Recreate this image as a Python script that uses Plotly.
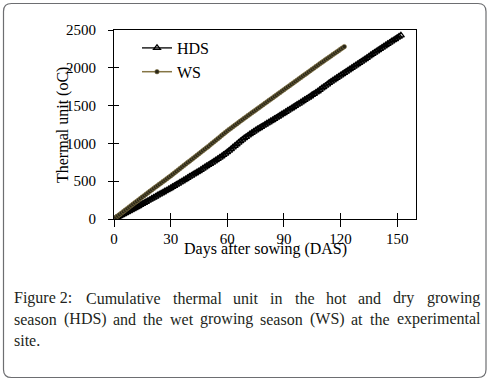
import plotly.graph_objects as go

# ---- data ----
hds_days = list(range(0, 153))
hds_tu = [0, 11, 24, 38, 51, 64, 78, 91, 104, 117, 130,
          144, 157, 171, 186, 200, 213, 228, 242, 255, 270,
          284, 297, 312, 326, 339, 354, 368, 381, 396, 410,
          425, 440, 455, 469, 484, 499, 514, 529, 545, 560,
          575, 590, 605, 620, 635, 651, 667, 683, 699, 715,
          731, 747, 763, 779, 796, 813, 830, 848, 866, 885,
          905, 926, 947, 968, 989, 1010, 1030, 1050, 1069, 1087,
          1105, 1122, 1139, 1156, 1172, 1188, 1204,
          1219, 1234, 1249, 1264, 1279, 1294, 1309, 1324,
          1340, 1356, 1371, 1387, 1402, 1418, 1433, 1449,
          1465, 1480, 1496, 1512, 1527, 1543, 1559, 1575,
          1591, 1607, 1624, 1641, 1657, 1674, 1690,
          1708, 1727, 1745, 1763, 1782, 1800,
          1817, 1833, 1850, 1867, 1883, 1900,
          1916, 1933, 1949, 1966, 1982, 1999, 2015, 2032, 2048, 2065,
          2082, 2099, 2116, 2133, 2150, 2167, 2184, 2201, 2218, 2235,
          2251, 2267, 2283, 2300, 2316, 2332, 2349, 2365, 2381, 2398, 2414, 2430]

ws_days = list(range(0, 123))
ws_tu = [0, 20, 40, 59, 79, 98, 118, 137, 157, 176, 195,
         214, 233, 252, 271, 290, 309, 328, 347, 366, 385,
         403, 422, 440, 459, 477, 496, 514, 533, 551, 570,
         590, 609, 629, 648, 668, 687, 707, 726, 746, 765,
         785, 804, 824, 843, 863, 882, 902, 921, 941, 960,
         981, 1001, 1022, 1042, 1063, 1083, 1104, 1124, 1145, 1165,
         1184, 1202, 1221, 1239, 1258, 1276, 1295, 1313, 1332, 1350,
         1368, 1386, 1404, 1422, 1440, 1458, 1476, 1494, 1512, 1530,
         1548, 1566, 1584, 1602, 1620, 1638, 1656, 1674, 1692, 1710,
         1728, 1746, 1764, 1782, 1800, 1818, 1836, 1854, 1872, 1890,
         1908, 1926, 1944, 1962, 1980, 1998, 2016, 2034, 2052, 2070,
         2087, 2105, 2122, 2140, 2157, 2175, 2192, 2210, 2227, 2245, 2262, 2280]

x_ticks = [0, 30, 60, 90, 120, 150]
y_ticks = [0, 500, 1000, 1500, 2000, 2500]

x_title = "Days after sowing (DAS)"
y_title = "Thermal unit (oC)"
caption_line1 = ["Figure 2:", "Cumulative", "thermal", "unit", "in", "the",
                 "hot", "and", "dry", "growing"]
caption_line2 = ["season", "(HDS)", "and", "the", "wet", "growing", "season",
                 "(WS)", "at", "the", "experimental"]
caption_line3 = "site."

# ---- layout geometry (pixels) ----
W, H = 490, 381
L, R, T, B = 114, 416, 30, 219
PW, PH = R - L, B - T


def px(x):
    return (x - L) / PW


def py(y):
    return (B - y) / PH


FONT = "Liberation Serif"
CAP_COLOR = "#231f20"
fig = go.Figure()

fig.add_trace(go.Scatter(
    x=hds_days, y=hds_tu, name="HDS", mode="lines+markers",
    line=dict(color="#000000", width=1.3),
    marker=dict(symbol="triangle-up-open", size=6, color="#000000",
                line=dict(width=1.3, color="#000000")),
))
fig.add_trace(go.Scatter(
    x=ws_days, y=ws_tu, name="WS", mode="lines+markers",
    line=dict(color="#857545", width=1.5),
    marker=dict(symbol="circle", size=4.5, color="#2a2719",
                line=dict(width=0.6, color="#857545")),
))

# helper trace on overlay axes (inward half of the crossing ticks)
fig.add_trace(go.Scatter(x=[None], y=[None], xaxis="x2", yaxis="y2",
                         showlegend=False, hoverinfo="skip"))

axis_common = dict(showgrid=False, zeroline=False, showline=True,
                   linecolor="#000000", linewidth=1, mirror=True,
                   ticks="outside", tickcolor="#000000", tickwidth=1,
                   tickfont=dict(family=FONT, size=15, color="#000000"))

fig.update_layout(
    width=W, height=H,
    margin=dict(l=L, r=W - R, t=T, b=H - B, pad=0),
    paper_bgcolor="white", plot_bgcolor="white",
    xaxis=dict(range=[0, 160], tickvals=x_ticks, ticklen=7,
               ticklabelstandoff=-1, **axis_common),
    yaxis=dict(range=[0, 2500], tickvals=y_ticks, ticklen=5,
               ticklabelstandoff=9, **axis_common),
    xaxis2=dict(range=[0, 160], tickvals=x_ticks, overlaying="x",
                showticklabels=False, ticks="inside", ticklen=6,
                tickcolor="#000000", showgrid=False, zeroline=False,
                showline=False),
    yaxis2=dict(range=[0, 2500], tickvals=y_ticks, overlaying="y",
                showticklabels=False, ticks="inside", ticklen=5,
                tickcolor="#000000", showgrid=False, zeroline=False,
                showline=False),
    showlegend=True,
    legend=dict(x=px(137), y=py(31), xanchor="left", yanchor="top",
                bgcolor="rgba(0,0,0,0)",
                font=dict(family=FONT, size=16, color="#000000"),
                itemwidth=30, tracegroupgap=0),
    font=dict(family=FONT, color="#000000"),
)

ann = []
ann.append(dict(x=px(265), y=py(249), xref="paper", yref="paper",
                xanchor="center", yanchor="middle",
                text=x_title, showarrow=False,
                font=dict(family=FONT, size=16, color="#000000")))
ann.append(dict(x=px(63), y=py(125), xref="paper", yref="paper",
                xanchor="center", yanchor="middle",
                text=y_title, showarrow=False, textangle=-90,
                font=dict(family=FONT, size=16, color="#000000")))

# caption: justified lines -> word start positions (px)
line1_x = [12, 84, 170.6, 231.4, 268.2, 292.5, 324, 356.3, 391.3, 424.5]
line2_x = [12, 61.6, 111.3, 141.3, 167.8, 197.9, 258.1, 307.8, 349.4, 368, 394.5]
for words, xs, yc in ((caption_line1, line1_x, 298), (caption_line2, line2_x, 319)):
    for w, xs_ in zip(words, xs):
        ann.append(dict(x=px(xs_), y=py(yc), xref="paper", yref="paper",
                        xanchor="left", yanchor="middle", text=w,
                        showarrow=False,
                        font=dict(family=FONT, size=16, color=CAP_COLOR)))
ann.append(dict(x=px(12), y=py(340), xref="paper", yref="paper",
                xanchor="left", yanchor="middle", text=caption_line3,
                showarrow=False,
                font=dict(family=FONT, size=16, color=CAP_COLOR)))
fig.update_layout(annotations=ann)

# rounded outer frame
x0, y0, x1, y1, r = 3.5, 3.5, 486, 377.5, 8
path = (f"M {px(x0 + r)},{py(y0)} L {px(x1 - r)},{py(y0)} "
        f"Q {px(x1)},{py(y0)} {px(x1)},{py(y0 + r)} "
        f"L {px(x1)},{py(y1 - r)} Q {px(x1)},{py(y1)} {px(x1 - r)},{py(y1)} "
        f"L {px(x0 + r)},{py(y1)} Q {px(x0)},{py(y1)} {px(x0)},{py(y1 - r)} "
        f"L {px(x0)},{py(y0 + r)} Q {px(x0)},{py(y0)} {px(x0 + r)},{py(y0)} Z")
fig.add_shape(type="path", path=path, xref="paper", yref="paper",
              line=dict(color="#6d6e71", width=1.2), layer="below")

fig.write_html("out.html",
               config={"displayModeBar": False},
               post_script="document.body.style.margin='0';"
                           "document.body.style.padding='0';")
